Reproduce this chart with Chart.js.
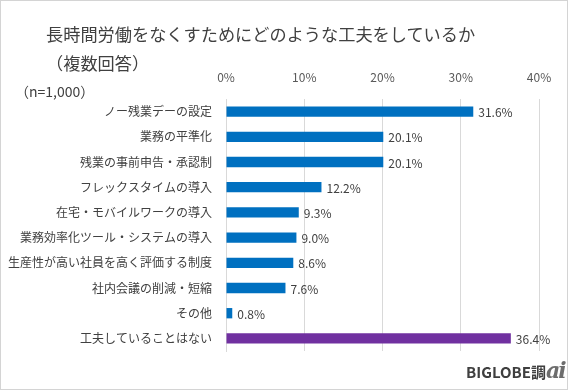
<!DOCTYPE html>
<html>
<head>
<meta charset="utf-8">
<script src="https://cdn.jsdelivr.net/npm/chart.js@4"></script>
<style>
  html, body { margin: 0; padding: 0; background: #fff; }
  #wrap { position: relative; width: 566px; height: 388px; border: 1px solid #d4d4d4; overflow: hidden; }
  #chart { position: absolute; left: -1px; top: -1px; }
  .txt { position: absolute; font-family: "Noto Sans CJK JP", sans-serif; color: #404040; white-space: nowrap; }
  #title1 { left: 45px; top: 21px; font-size: 17.2px; line-height: 24px; }
  #title2 { left: 45px; top: 50px; font-size: 17.2px; line-height: 24px; }
  #n { left: 14px; top: 80px; font-size: 14px; line-height: 20px; }
  #logo { left: 465px; top: 359px; font-size: 15px; font-weight: bold; line-height: 20px; color: #3f3f3f; font-family: "Noto Sans CJK JP", sans-serif; }
  #logo i { font-family: "DejaVu Serif", serif; font-size: 22px; color: #6d6d6d; letter-spacing: -2px; }
</style>
</head>
<body>
<div id="wrap">
  <canvas id="chart" width="568" height="390"></canvas>
  <div class="txt" id="title1">長時間労働をなくすためにどのような工夫をしているか</div>
  <div class="txt" id="title2">（複数回答）</div>
  <div class="txt" id="n">（n=1,000）</div>
  <div class="txt" id="logo">BIGLOBE調<i>ai</i></div>
</div>
<script>
// data
const categories = [
  'ノー残業デーの設定',
  '業務の平準化',
  '残業の事前申告・承認制',
  'フレックスタイムの導入',
  '在宅・モバイルワークの導入',
  '業務効率化ツール・システムの導入',
  '生産性が高い社員を高く評価する制度',
  '社内会議の削減・短縮',
  'その他',
  '工夫していることはない'
];
const values = [31.6, 20.1, 20.1, 12.2, 9.3, 9.0, 8.6, 7.6, 0.8, 36.4];
const tickLabels = ['0%', '10%', '20%', '30%', '40%'];

const BLUE = '#0070c0';
const PURPLE = '#7030a0';
const barColors = categories.map((c, i) => i === categories.length - 1 ? PURPLE : BLUE);

const FONT = '"Noto Sans CJK JP", sans-serif';

// value labels next to each bar
const valueLabels = {
  id: 'valueLabels',
  afterDatasetsDraw(chart) {
    const ctx = chart.ctx;
    const meta = chart.getDatasetMeta(0);
    ctx.save();
    ctx.font = '12px ' + FONT;
    ctx.fillStyle = '#404040';
    ctx.textAlign = 'left';
    ctx.textBaseline = 'middle';
    meta.data.forEach((bar, i) => {
      ctx.fillText(values[i].toFixed(1) + '%', bar.x + 5, bar.y + 1);
    });
    ctx.restore();
  }
};

const chart = new Chart(document.getElementById('chart').getContext('2d'), {
  type: 'bar',
  data: {
    labels: categories,
    datasets: [{
      data: values,
      backgroundColor: barColors,
      barPercentage: 0.41,
      categoryPercentage: 1.0
    }]
  },
  options: {
    indexAxis: 'y',
    responsive: false,
    animation: false,
    layout: {
      padding: { left: 0, top: 0, right: 29, bottom: 39 }
    },
    scales: {
      x: {
        position: 'top',
        min: 0,
        max: 40,
        afterFit: scale => { scale.height = 99; },
        border: { display: false },
        grid: { color: '#d9d9d9', drawTicks: false },
        ticks: {
          stepSize: 10,
          padding: 14,
          color: '#595959',
          font: { family: FONT, size: 12 },
          callback: (v, i) => tickLabels[i]
        }
      },
      y: {
        afterFit: scale => { scale.width = 226; },
        border: { display: true, color: '#d9d9d9' },
        grid: { display: false, drawTicks: false },
        ticks: {
          padding: 14,
          color: '#404040',
          font: { family: FONT, size: 12 }
        }
      }
    },
    plugins: {
      legend: { display: false },
      tooltip: { enabled: false }
    }
  },
  plugins: [valueLabels]
});
</script>
</body>
</html>
